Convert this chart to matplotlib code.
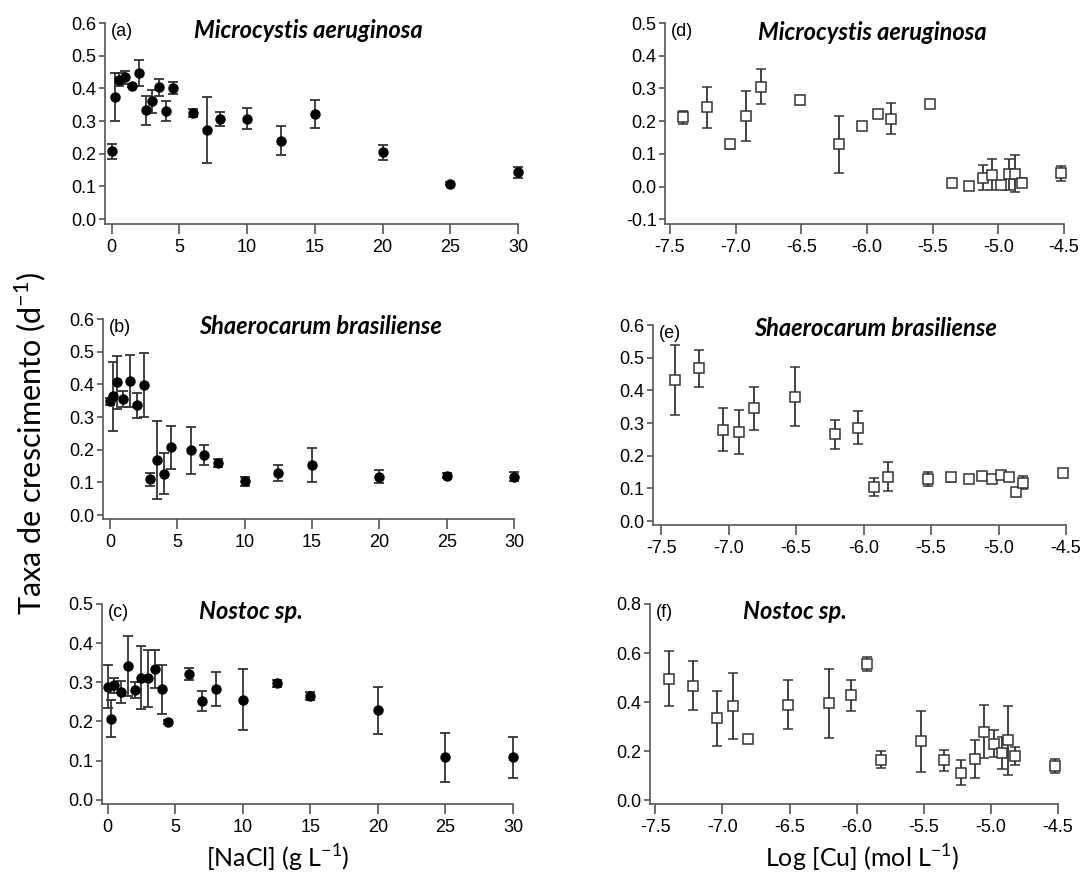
import matplotlib.pyplot as plt
from matplotlib.ticker import FormatStrFormatter

plt.rcParams['font.family'] = ['Liberation Sans', 'DejaVu Sans']

# NaCl concentrations (g/L)
nacl = [0, 0.25, 0.5, 1, 1.5, 2, 2.5, 3, 3.5, 4, 4.5, 6, 7, 8, 10, 12.5, 15, 20, 25, 30]
# Log [Cu] (mol/L)
cu = [-7.4, -7.22, -7.04, -6.92, -6.81, -6.51, -6.21, -6.04, -5.92, -5.82,
      -5.52, -5.35, -5.22, -5.12, -5.05, -4.98, -4.92, -4.87, -4.82, -4.52]

# (a) Microcystis aeruginosa vs NaCl
a_y = [0.207, 0.373, 0.427, 0.434, 0.408, 0.447, 0.333, 0.36, 0.403, 0.33,
       0.401, 0.324, 0.273, 0.306, 0.307, 0.24, 0.322, 0.204, 0.108, 0.143]
a_e = [0.022, 0.073, 0.02, 0.02, 0.005, 0.04, 0.045, 0.035, 0.025, 0.03,
       0.017, 0.012, 0.1, 0.022, 0.032, 0.044, 0.043, 0.022, 0.005, 0.017]
# (b) Shaerocarum brasiliense vs NaCl
b_y = [0.348, 0.363, 0.406, 0.355, 0.411, 0.336, 0.398, 0.109, 0.169, 0.126,
       0.208, 0.199, 0.184, 0.16, 0.103, 0.128, 0.153, 0.118, 0.121, 0.118]
b_e = [0.01, 0.105, 0.08, 0.025, 0.079, 0.039, 0.098, 0.019, 0.12, 0.063,
       0.066, 0.072, 0.03, 0.012, 0.015, 0.025, 0.053, 0.02, 0.008, 0.013]
# (c) Nostoc sp. vs NaCl
c_y = [0.289, 0.207, 0.292, 0.275, 0.342, 0.28, 0.312, 0.31, 0.334, 0.282,
       0.198, 0.322, 0.252, 0.282, 0.255, 0.297, 0.265, 0.229, 0.108, 0.108]
c_e = [0.055, 0.048, 0.02, 0.027, 0.076, 0.02, 0.08, 0.072, 0.048, 0.063,
       0.005, 0.015, 0.025, 0.043, 0.078, 0.01, 0.011, 0.06, 0.062, 0.052]
# (d) Microcystis aeruginosa vs Cu
d_y = [0.212, 0.242, 0.129, 0.216, 0.306, 0.265, 0.129, 0.186, 0.222, 0.208,
       0.253, 0.01, 0.001, 0.028, 0.037, 0.006, 0.038, 0.04, 0.012, 0.041]
d_e = [0.02, 0.063, 0.015, 0.077, 0.053, 0.007, 0.088, 0.005, 0.005, 0.048,
       0.005, 0.01, 0.005, 0.038, 0.048, 0.008, 0.048, 0.056, 0.013, 0.023]
# (e) Shaerocarum brasiliense vs Cu
e_y = [0.431, 0.467, 0.279, 0.273, 0.345, 0.381, 0.265, 0.286, 0.105, 0.136,
       0.128, 0.134, 0.128, 0.139, 0.129, 0.14, 0.136, 0.09, 0.117, 0.146]
e_e = [0.107, 0.056, 0.066, 0.068, 0.065, 0.09, 0.044, 0.05, 0.028, 0.045,
       0.022, 0.014, 0.008, 0.006, 0.008, 0.006, 0.005, 0.008, 0.02, 0.007]
# (f) Nostoc sp. vs Cu
f_y = [0.496, 0.467, 0.333, 0.384, 0.251, 0.388, 0.395, 0.427, 0.555, 0.165,
       0.239, 0.162, 0.112, 0.169, 0.278, 0.23, 0.192, 0.244, 0.18, 0.139]
f_e = [0.112, 0.1, 0.112, 0.136, 0.008, 0.1, 0.14, 0.062, 0.03, 0.035,
       0.125, 0.042, 0.05, 0.077, 0.108, 0.055, 0.066, 0.14, 0.035, 0.027]

nacl_ticks = [0, 5, 10, 15, 20, 25, 30]
cu_ticks = [-7.5, -7.0, -6.5, -6.0, -5.5, -5.0, -4.5]

W, H = 1084, 888
fig = plt.figure(figsize=(W / 100, H / 100), dpi=100)


def box(left, top, right, bottom):
    return [left / W, 1 - bottom / H, (right - left) / W, (bottom - top) / H]


# pixel box, limits, data, marker, y ticks, label, title, title x / y (px)
panels = [
    (box(105, 23, 518, 224), (-0.5, 30), (-0.015, 0.6), nacl, a_y, a_e, 'o',
     [0, 0.1, 0.2, 0.3, 0.4, 0.5, 0.6], '(a)', 'Microcystis aeruginosa', 308, 31),
    (box(103, 319, 514, 519), (-0.52, 30), (-0.012, 0.6), nacl, b_y, b_e, 'o',
     [0, 0.1, 0.2, 0.3, 0.4, 0.5, 0.6], '(b)', 'Shaerocarum brasiliense', 320, 327),
    (box(102, 604, 513, 804), (-0.42, 30), (-0.011, 0.5), nacl, c_y, c_e, 'o',
     [0, 0.1, 0.2, 0.3, 0.4, 0.5], '(c)', 'Nostoc sp.', 251, 611),
    (box(665, 23, 1064, 224), (-7.538, -4.5), (-0.114, 0.5), cu, d_y, d_e, 's',
     [-0.1, 0, 0.1, 0.2, 0.3, 0.4, 0.5], '(d)', 'Microcystis aeruginosa', 872, 33),
    (box(653, 325, 1066, 525), (-7.56, -4.5), (-0.012, 0.6), cu, e_y, e_e, 's',
     [0, 0.1, 0.2, 0.3, 0.4, 0.5, 0.6], '(e)', 'Shaerocarum brasiliense', 875, 328),
    (box(650, 604, 1058, 804), (-7.54, -4.5), (-0.016, 0.8), cu, f_y, f_e, 's',
     [0, 0.2, 0.4, 0.6, 0.8], '(f)', 'Nostoc sp.', 795, 611),
]

for pos, xl, yl, xs, ys, es, mk, yt, lab, title, tx, ty in panels:
    ax = fig.add_axes(pos)
    if mk == 'o':
        ax.errorbar(xs, ys, yerr=es, fmt='o', color='black', ms=6.5,
                    ecolor='#333333', elinewidth=1.3, capsize=3.5, capthick=1.3,
                    clip_on=False, zorder=3)
        ax.set_xticks(nacl_ticks)
    else:
        ax.errorbar(xs, ys, yerr=es, fmt='s', mfc='white', mec='#333333', mew=1.1,
                    ms=7, ecolor='#333333', elinewidth=1.3, capsize=3.5,
                    capthick=1.3, clip_on=False, zorder=3)
        ax.set_xticks(cu_ticks)
        ax.xaxis.set_major_formatter(FormatStrFormatter('%.1f'))
    ax.set_xlim(*xl)
    ax.set_ylim(*yl)
    ax.set_yticks(yt)
    ax.yaxis.set_major_formatter(FormatStrFormatter('%.1f'))
    for s in ['top', 'right']:
        ax.spines[s].set_visible(False)
    for s in ['left', 'bottom']:
        ax.spines[s].set_color('#555555')
        ax.spines[s].set_linewidth(1.2)
    ax.tick_params(axis='x', direction='out', length=7, width=1.2, color='#555555',
                   labelsize=13, pad=4)
    ax.tick_params(axis='y', direction='out', length=4, width=1.2, color='#555555',
                   labelsize=13, pad=2)
    ax.text(0.015, 1.0, lab, transform=ax.transAxes, fontsize=13, va='top',
            ha='left')
    fig.text(tx / W, 1 - ty / H, title, fontsize=17, fontweight='bold',
             fontstyle='italic', family=['Lato', 'DejaVu Sans'],
             ha='center', va='center')

fig.text(30 / W, 1 - 443 / H, r'Taxa de crescimento (d$^{\mathregular{-1}}$)',
         rotation=90, fontsize=22, family=['Lato', 'DejaVu Sans'],
         ha='center', va='center')
fig.text(278 / W, 1 - 858 / H, r'[NaCl] (g L$^{\mathregular{-1}}$)',
         fontsize=18, family=['Lato', 'DejaVu Sans'], ha='center', va='center')
fig.text(862 / W, 1 - 858 / H, r'Log [Cu] (mol L$^{\mathregular{-1}}$)',
         fontsize=18, family=['Lato', 'DejaVu Sans'], ha='center', va='center')

fig.savefig('out.png', dpi=100)
